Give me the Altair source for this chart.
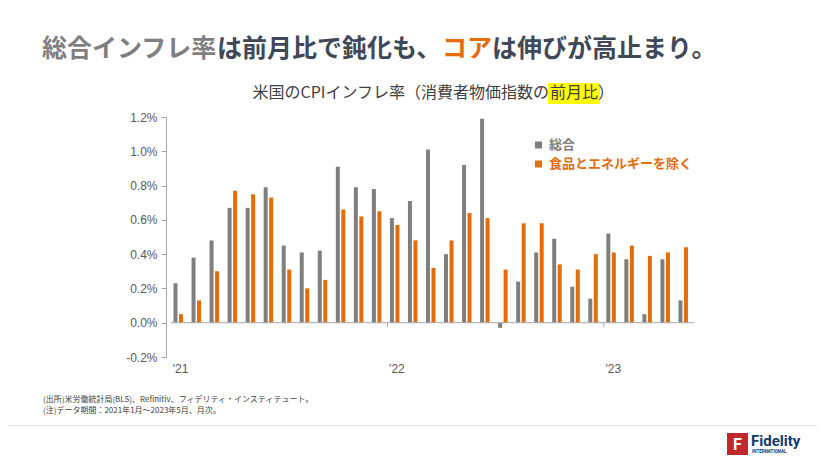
import altair as alt
import pandas as pd

# ---- data ----
months = ["2021-01", "2021-02", "2021-03", "2021-04", "2021-05", "2021-06",
          "2021-07", "2021-08", "2021-09", "2021-10", "2021-11", "2021-12",
          "2022-01", "2022-02", "2022-03", "2022-04", "2022-05", "2022-06",
          "2022-07", "2022-08", "2022-09", "2022-10", "2022-11", "2022-12",
          "2023-01", "2023-02", "2023-03", "2023-04", "2023-05"]
headline = [0.23, 0.38, 0.48, 0.67, 0.67, 0.79, 0.45, 0.41, 0.42, 0.91, 0.79, 0.78,
            0.61, 0.71, 1.01, 0.40, 0.92, 1.19, -0.03, 0.24, 0.41, 0.49, 0.21, 0.14,
            0.52, 0.37, 0.05, 0.37, 0.13]
core = [0.05, 0.13, 0.30, 0.77, 0.75, 0.73, 0.31, 0.20, 0.25, 0.66, 0.62, 0.65,
        0.57, 0.48, 0.32, 0.48, 0.64, 0.61, 0.31, 0.58, 0.58, 0.34, 0.31, 0.40,
        0.41, 0.45, 0.39, 0.41, 0.44]
series_names = ["総合", "食品とエネルギーを除く"]
series_colors = ["#7f7f7f", "#e46c0a"]
year_labels = ["'21", "'22", "'23"]
y_ticks = [-0.2, 0.0, 0.2, 0.4, 0.6, 0.8, 1.0, 1.2]

title_parts = ["総合インフレ率", "は前月比で鈍化も、", "コア", "は伸びが高止まり。"]
title_colors = ["#7f7f7f", "#404858", "#e46c0a", "#404858"]
subtitle_a = "米国のCPIインフレ率（消費者物価指数の"
subtitle_b = "前月比"
subtitle_c = "）"
notes = ["(出所)米労働統計局(BLS)、Refinitiv、フィデリティ・インスティテュート。",
         "(注)データ期間：2021年1月～2023年5月、月次。"]

JP = "Noto Sans CJK JP"
N = len(months)
year_starts = [i for i, m in enumerate(months) if m.endswith("-01")]

rows = []
for i, m in enumerate(months):
    rows.append({"i": i, "month": m, "series": series_names[0], "v": headline[i]})
    rows.append({"i": i, "month": m, "series": series_names[1], "v": core[i]})
df = pd.DataFrame(rows)

W, H = 533, 240
xscale = alt.Scale(domain=[0, N], nice=False, zero=False)
yscale = alt.Scale(domain=[-0.2, 1.2], nice=False)

label_expr_x = " : ".join(
    [f"datum.value < {year_starts[k + 1]} ? \"{year_labels[k]}\"" for k in range(len(year_starts) - 1)]
) + f" : \"{year_labels[-1]}\""

x_axis = alt.Axis(values=[s + 0.5 for s in year_starts], labelExpr=label_expr_x,
                  ticks=False, domain=False, grid=False, title=None, labelFlush=False,
                  labelPadding=6, labelFontSize=12, labelColor="#595959",
                  labelFont="Liberation Sans")
y_axis = alt.Axis(values=y_ticks, grid=False, title=None, tickSize=5,
                  labelExpr="(datum.value < 0 ? '-' : '') + format(abs(datum.value), '.1f') + '%'",
                  domainColor="#a6a6a6", tickColor="#a6a6a6", labelColor="#595959",
                  labelFontSize=12, labelPadding=4, labelFont="Liberation Sans")

color_scale = alt.Scale(domain=series_names, range=series_colors)

def bar_layer(name, offset):
    return alt.Chart(df).transform_filter(alt.datum.series == name).mark_bar(
        width=4, xOffset=offset
    ).encode(
        x=alt.X("i:Q", scale=xscale, axis=x_axis),
        y=alt.Y("v:Q", scale=yscale, axis=y_axis),
        color=alt.Color("series:N", scale=color_scale, legend=None),
    )

bars_h = bar_layer(series_names[0], 4.5)
bars_c = bar_layer(series_names[1], 10)

baseline = alt.Chart(pd.DataFrame({"a": [0]})).mark_rule(color="#a6a6a6", strokeWidth=1).encode(
    x=alt.X(datum=0, scale=xscale, axis=x_axis),
    x2=alt.X2(datum=N),
    y=alt.Y(datum=0, scale=yscale, axis=y_axis),
)
ticks = alt.Chart(pd.DataFrame({"b": year_starts[1:]})).mark_rule(color="#a6a6a6").encode(
    x=alt.X("b:Q", scale=xscale, axis=x_axis),
    y=alt.Y(datum=0, scale=yscale, axis=y_axis),
    y2=alt.Y2(datum=-0.025),
)


def txt(s, x, y, size, color, weight="normal", align="left", font=JP):
    return alt.Chart(pd.DataFrame({"t": [s]})).mark_text(
        align=align, baseline="middle", fontSize=size, color=color,
        fontWeight=weight, font=font
    ).encode(x=alt.value(x), y=alt.value(y), text="t:N")


def box(x, x2, y, y2, color):
    return alt.Chart(pd.DataFrame({"a": [0]})).mark_rect(color=color).encode(
        x=alt.value(x), x2=alt.value(x2), y=alt.value(y), y2=alt.value(y2)
    )

deco = []
# Title
tx = -124
for part, col in zip(title_parts, title_colors):
    deco.append(txt(part, tx, -68, 25, col, weight="bold"))
    tx += 25 * len(part)

# Subtitle with highlight
deco.append(box(382, 434, -34, -13, "#ffff00"))
deco.append(txt(subtitle_a, 383, -24, 16, "#404040", align="right"))
deco.append(txt(subtitle_b, 384, -24, 16, "#404040"))
deco.append(txt(subtitle_c, 432, -24, 16, "#404040"))

# Legend
for k, (name, col) in enumerate(zip(series_names, series_colors)):
    yy = 28 + 19 * k
    deco.append(box(369, 376, yy - 3.5, yy + 3.5, col))
    deco.append(txt(name, 383, yy, 13, col, weight="bold"))

# Notes
for k, n in enumerate(notes):
    deco.append(txt(n, -123, 283 + 11 * k, 8, "#404040"))

# Separator line
deco.append(box(-158, 651, 308, 309, "#e3e3e3"))

# Logo
deco.append(box(561, 582, 316, 338, "#c0282d"))
deco.append(txt("F", 571.5, 327.5, 16, "#ffffff", weight="bold", align="center", font="Roboto"))
deco.append(txt("Fidelity", 585, 324, 15, "#0f3d6e", weight="bold", font="Roboto"))
deco.append(txt("INTERNATIONAL", 586, 335, 4.5, "#0f3d6e", weight="bold", font="Roboto"))

chart = alt.layer(bars_h, bars_c, baseline, ticks, *deco).properties(
    width=W, height=H,
    autosize=alt.AutoSizeParams(type="none"),
    padding={"left": 158, "top": 109, "right": 118, "bottom": 99},
    background="#ffffff",
).configure(font="Liberation Sans", view=alt.ViewConfig(stroke=None))

chart.save("out.html", embed_options={"renderer": "svg", "actions": False})
